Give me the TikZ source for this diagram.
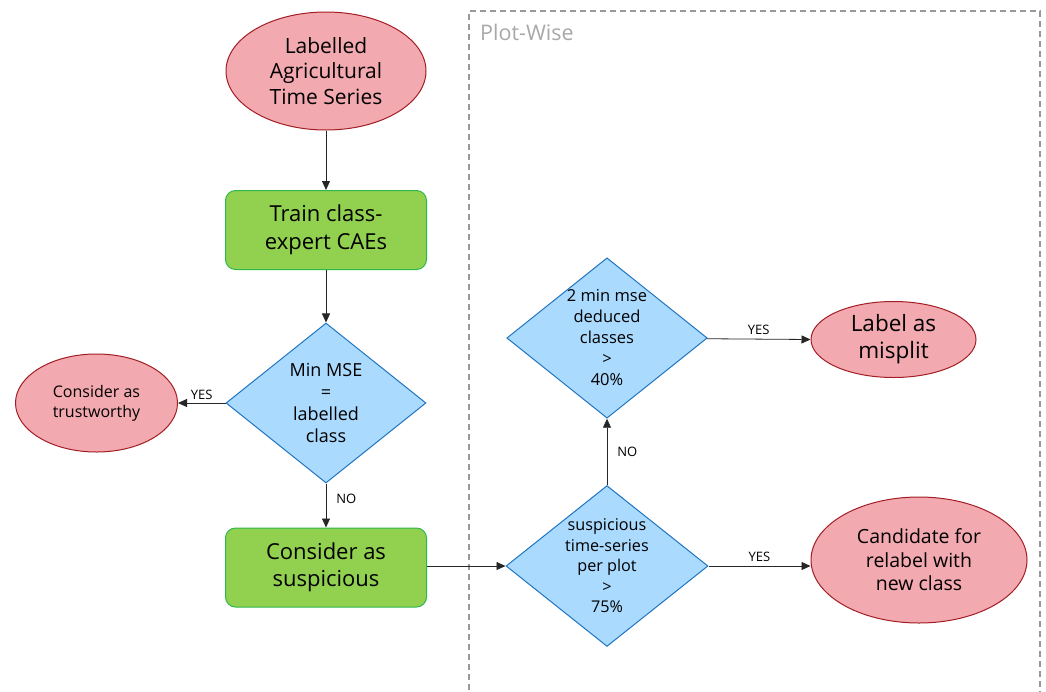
\documentclass[tikz,border=0pt]{standalone}
\usepackage{fontspec}
\setmainfont{Open Sans}
\usetikzlibrary{shapes.geometric,arrows.meta}
\definecolor{elfill}{HTML}{F2A9AF}
\definecolor{elline}{HTML}{A21E24}
\definecolor{boxfill}{HTML}{92D050}
\definecolor{boxline}{HTML}{2DB84C}
\definecolor{dmfill}{HTML}{AADAFE}
\definecolor{dmline}{HTML}{1F74C0}
\definecolor{grp}{HTML}{999999}
\tikzset{
  ell/.style={ellipse, draw=elline, fill=elfill, line width=1pt, inner sep=0pt, align=center},
  procbox/.style={rectangle, rounded corners=10pt, draw=boxline, fill=boxfill, line width=1pt,
     minimum width=201pt, minimum height=79pt, inner sep=0pt, align=center,
     font=\fontsize{22}{27.5}\selectfont},
  dec/.style={diamond, draw=dmline, fill=dmfill, line width=1pt, inner sep=0pt, align=center,
     aspect=1.25},
  conn/.style={draw=black!85, line width=0.8pt, -{Triangle[length=9pt,width=8pt]}},
  elab/.style={font=\fontsize{13}{15}\selectfont, inner sep=0pt}
}
\begin{document}
\begin{tikzpicture}[x=1pt,y=-1pt]
\useasboundingbox (0,0) rectangle (1046,691);
% group
\draw[grp, line width=1.2pt, dash pattern=on 6pt off 4pt] (469,700) -- (469,11) -- (1040,11) -- (1040,700);
\node[anchor=west, text=grp!85, font=\fontsize{21.5}{24}\selectfont, inner sep=0pt] (pw) at (480,32) {Plot-Wise};
% nodes
\node[ell, minimum width=200pt, minimum height=118pt, font=\fontsize{21}{25.5}\selectfont] (src) at (326,71) {Labelled\\Agricultural\\Time Series};
\node[procbox] (train) at (326,230) {Train class-\\expert CAEs};
\node[dec, minimum width=200pt, minimum height=160pt, font=\fontsize{18}{22}\selectfont] (minmse) at (326,403) {Min MSE\\=\\labelled\\class};
\node[ell, minimum width=162pt, minimum height=98pt, font=\fontsize{16}{20}\selectfont] (trust) at (96.5,403) {Consider as\\trustworthy};
\node[procbox] (susp) at (326,567.5) {Consider as\\suspicious};
\node[dec, minimum width=202pt, minimum height=158pt, font=\fontsize{16.2}{20.5}\selectfont] (perplot) at (607,566) {suspicious\\time-series\\per plot\\>\\75\%};
\node[dec, minimum width=200pt, minimum height=160pt, font=\fontsize{16.5}{21}\selectfont] (twomin) at (607,338) {2 min mse\\deduced\\classes\\>\\40\%};
\node[ell, minimum width=165pt, minimum height=76pt, font=\fontsize{22.5}{27}\selectfont] (misplit) at (893.5,339.5) {Label as\\misplit};
\node[ell, minimum width=216pt, minimum height=126pt, font=\fontsize{19.5}{23.5}\selectfont] (cand) at (919,560) {Candidate for\\relabel with\\new class};
% connectors
\draw[conn] (src) -- (train);
\draw[conn] (train) -- (minmse);
\draw[conn] (minmse) -- node[elab, above, yshift=3pt] (y1) {YES} (trust);
\draw[conn] (minmse) -- node[elab, right, xshift=10pt, pos=0.35] (n1) {NO} (susp);
\draw[conn] (susp.east |- perplot.west) -- (perplot);
\draw[conn] (perplot) -- node[elab, right, xshift=10pt] (n2) {NO} (twomin);
\draw[conn] (twomin) -- node[elab, above, yshift=4pt] (y2) {YES} (misplit.west);
\draw[conn] (perplot.east) -- node[elab, above, yshift=4pt] (y3) {YES} (perplot.east -| cand.west);
\end{tikzpicture}
\end{document}
